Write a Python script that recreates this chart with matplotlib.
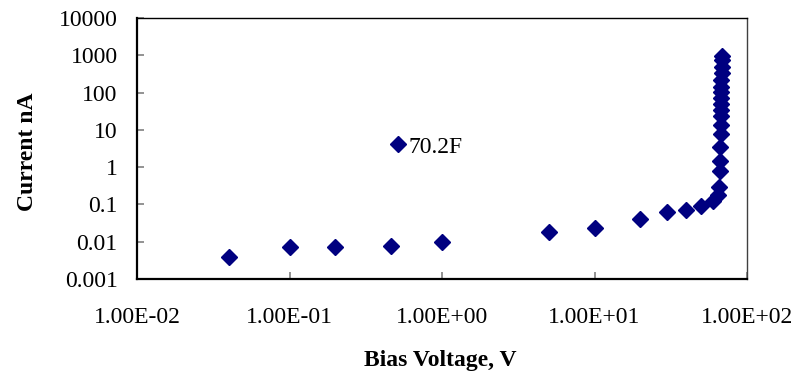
import matplotlib
matplotlib.use("Agg")
import matplotlib.pyplot as plt
from matplotlib.ticker import FixedLocator, FixedFormatter, NullLocator

# Data
bias_voltage = [0.04, 0.1, 0.2, 0.46, 1.0, 5.0, 10.0, 20.0, 30.0, 40.0, 50.0, 60.0,
                65.0, 66.0, 67.0, 67.0, 67.0, 68.0, 68.0, 68.0, 68.0, 68.0,
                68.0, 68.0, 68.0, 68.0, 68.5, 68.5, 69.0, 69.0]
current_na = [0.0038, 0.0070, 0.0070, 0.0077, 0.0100, 0.0187, 0.024, 0.040, 0.064, 0.073, 0.093, 0.124,
              0.18, 0.29, 0.8, 1.5, 3.5, 7.8, 13.5, 23.6, 34.0, 49.5,
              72.0, 104.0, 141.0, 218.0, 335.0, 486.0, 748.0, 950.0]
series_label = "70.2F"

x_ticks = [0.01, 0.1, 1, 10, 100]
x_tick_labels = ["1.00E-02", "1.00E-01", "1.00E+00", "1.00E+01", "1.00E+02"]
y_ticks = [0.001, 0.01, 0.1, 1, 10, 100, 1000, 10000]
y_tick_labels = ["0.001", "0.01", "0.1", "1", "10", "100", "1000", "10000"]

plt.rcParams['font.family'] = ['Liberation Serif', 'DejaVu Serif']

fig = plt.figure(figsize=(8.12, 3.78), dpi=100)
ax = fig.add_axes([137/812, 1-279/378, (747-137)/812, (279-18)/378])

ax.plot(bias_voltage, current_na, linestyle='none', marker='D', markersize=8,
        color='#000080', markeredgecolor='#000080', label=series_label)

ax.set_xscale('log')
ax.set_yscale('log')
ax.set_xlim(0.01, 100)
ax.set_ylim(0.001, 10000)

ax.xaxis.set_major_locator(FixedLocator(x_ticks))
ax.xaxis.set_major_formatter(FixedFormatter(x_tick_labels))
ax.xaxis.set_minor_locator(NullLocator())
ax.yaxis.set_major_locator(FixedLocator(y_ticks))
ax.yaxis.set_major_formatter(FixedFormatter(y_tick_labels))
ax.yaxis.set_minor_locator(NullLocator())

ax.tick_params(axis='both', which='major', direction='in', length=5, width=1.2,
               color='#808080', labelsize=17, labelcolor='black')
ax.tick_params(axis='y', pad=14)
ax.tick_params(axis='x', pad=20)

for side in ['left', 'bottom', 'top']:
    ax.spines[side].set_color('black')
ax.spines['left'].set_linewidth(1.6)
ax.spines['bottom'].set_linewidth(1.6)
ax.spines['top'].set_linewidth(1.0)
ax.spines['right'].set_color('#404040')
ax.spines['right'].set_linewidth(1.0)

fig.text(28/812, 1-152/378, "Current nA", rotation=90, fontsize=17, fontweight='bold',
         ha='center', va='center')
fig.text(440/812, 1-366/378, "Bias Voltage, V", fontsize=17, fontweight='bold',
         ha='center', va='baseline')

leg = ax.legend(loc='center left', bbox_to_anchor=(390.5/812, 1-147/378),
                bbox_transform=fig.transFigure, frameon=False, fontsize=17,
                handlelength=0.6, handletextpad=0.18, borderpad=0, borderaxespad=0,
                markerscale=1.0)

fig.savefig("out.png", dpi=100)
